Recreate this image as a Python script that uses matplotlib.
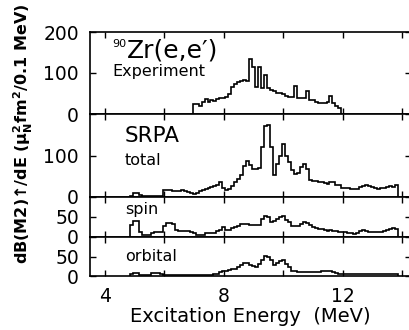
import numpy as np
import matplotlib
matplotlib.use("Agg")
import matplotlib.pyplot as plt

plt.rcParams['font.family'] = ['DejaVu Sans']
plt.rcParams['mathtext.fontset'] = 'dejavusans'

# ---- data (bins of 0.1 MeV) ----
bin_width = 0.1
exp_start = 6.95
exp_vals = [24, 24, 20, 30, 36, 30, 35, 32, 36, 38,
            40, 42, 48, 65, 72, 78, 80, 84, 80, 133,
            115, 65, 115, 63, 95, 63, 58, 55, 52, 52,
            48, 44, 42, 42, 68, 38, 38, 40, 57, 34,
            34, 30, 26, 28, 28, 30, 44, 28, 20, 15]

srpa_start = 4.85
total_vals = [3, 9, 9, 4, 2, 2, 2, 2, 2, 2,
              2, 17, 16, 16, 15, 14, 15, 16, 14, 12,
              9, 7, 10, 14, 18, 20, 22, 24, 26, 30,
              36, 22, 17, 20, 27, 35, 44, 52, 75, 86,
              78, 68, 67, 70, 120, 172, 174, 120, 52, 80,
              100, 128, 98, 85, 65, 55, 58, 72, 80, 68,
              42, 38, 38, 36, 35, 33, 32, 36, 36, 30,
              28, 22, 22, 21, 20, 19, 20, 23, 27, 29,
              27, 24, 21, 20, 21, 22, 24, 27, 25, 28]

spin_vals = [30, 40, 41, 12, 6, 5, 5, 11, 12, 13,
             13, 27, 34, 34, 33, 17, 16, 16, 15, 15,
             12, 11, 5, 5, 6, 9, 9, 10, 11, 14,
             18, 24, 17, 18, 22, 26, 28, 32, 33, 32,
             31, 30, 29, 31, 46, 52, 50, 38, 40, 46,
             50, 53, 42, 38, 28, 27, 28, 32, 38, 35,
             30, 24, 22, 21, 20, 17, 16, 18, 16, 14,
             13, 13, 12, 11, 10, 8, 9, 15, 17, 15,
             13, 13, 12, 13, 13, 14, 18, 20, 22, 20]

orbital_vals = [6, 8, 8, 3, 2, 2, 3, 7, 8, 7,
                4, 3, 3, 3, 3, 3, 2, 2, 3, 3,
                2, 2, 2, 3, 3, 2, 3, 3, 4, 6,
                9, 12, 13, 15, 17, 19, 22, 28, 33, 33,
                27, 26, 23, 30, 42, 52, 50, 40, 28, 34,
                38, 40, 30, 22, 14, 12, 11, 11, 11, 11,
                11, 11, 11, 11, 12, 12, 12, 12, 9, 8,
                6, 5, 5, 5, 5, 5, 5, 5, 5, 5,
                5, 5, 5, 5, 5, 5, 5, 5, 5, 5]

x_ticks = [4, 6, 8, 10, 12, 14]
x_ticklabels = ['4', '', '8', '', '12', '']

def edges(start, n):
    return start + bin_width * np.arange(n + 1)

W, H = 410, 330
fig = plt.figure(figsize=(W / 100, H / 100), dpi=100)

def ax_px(top, bottom):
    left, right = 90, 411
    return fig.add_axes([left / W, 1 - bottom / H, (right - left) / W, (bottom - top) / H])

lw = 1.2
tfs = 13.5

panels = [
    dict(top=32, bottom=114, ylim=(0, 200), yticks=[0, 100, 200], ylabels=['0', '100', '200']),
    dict(top=114, bottom=197, ylim=(0, 200), yticks=[0, 100, 200], ylabels=['0', '100', '']),
    dict(top=197, bottom=237, ylim=(0, 100), yticks=[0, 50, 100], ylabels=['0', '50', '']),
    dict(top=237, bottom=276, ylim=(0, 100), yticks=[0, 50, 100], ylabels=['0', '50', '']),
]
axes = []
for i, p in enumerate(panels):
    ax = ax_px(p['top'], p['bottom'])
    ax.set_xlim(3.5, 14.29)
    ax.set_ylim(*p['ylim'])
    ax.set_xticks(x_ticks)
    if i == 3:
        ax.set_xticklabels(x_ticklabels)
    else:
        ax.set_xticklabels([])
    ax.set_yticks(p['yticks'])
    ax.set_yticklabels(p['ylabels'])
    ax.tick_params(direction='in', length=4.5, width=1.0, top=True, right=True,
                   labelsize=tfs, pad=8)
    for s in ax.spines.values():
        s.set_linewidth(1.2)
    axes.append(ax)

ax1, ax2, ax3, ax4 = axes
ax1.stairs(exp_vals, edges(exp_start, len(exp_vals)), baseline=0, color='black', lw=lw)
ax2.stairs(total_vals, edges(srpa_start, len(total_vals)), baseline=0, color='black', lw=lw)
ax3.stairs(spin_vals, edges(srpa_start, len(spin_vals)), baseline=0, color='black', lw=lw)
ax4.stairs(orbital_vals, edges(srpa_start, len(orbital_vals)), baseline=0, color='black', lw=lw)

ax1.text(0.068, 0.823, "90", transform=ax1.transAxes, fontsize=8, va='baseline')
ax1.text(0.115, 0.695, "Zr(e,e′)", transform=ax1.transAxes, fontsize=18, va='baseline')
ax1.text(0.0685, 0.463, "Experiment", transform=ax1.transAxes, fontsize=11.5, va='baseline')
ax2.text(0.109, 0.666, "SRPA", transform=ax2.transAxes, fontsize=15.5, va='baseline')
ax2.text(0.109, 0.386, "total", transform=ax2.transAxes, fontsize=11.5, va='baseline')
ax3.text(0.109, 0.567, "spin", transform=ax3.transAxes, fontsize=11.5, va='baseline')
ax4.text(0.109, 0.385, "orbital", transform=ax4.transAxes, fontsize=11.5, va='baseline')

ax4.set_xlabel("Excitation Energy  (MeV)", fontsize=14, labelpad=1)

fig.text(23 / W, 1 - 134 / H, r"dB(M2)↑/dE ($\mathbf{\mu_N^2}$fm$^\mathbf{2}$/0.1 MeV)",
         rotation=90, ha='center', va='center', fontsize=11.5, fontweight='bold')

fig.savefig("out.png", dpi=100)
